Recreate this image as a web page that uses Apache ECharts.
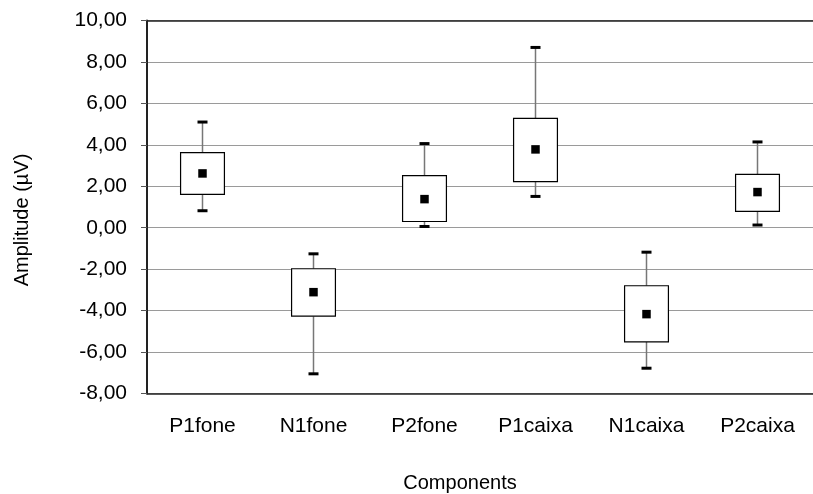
<!DOCTYPE html>
<html>
<head>
<meta charset="utf-8">
<script src="https://cdn.jsdelivr.net/npm/echarts@6/dist/echarts.min.js"></script>
<style>html,body{margin:0;padding:0;background:#fff}#c{width:813px;height:494px}</style>
</head>
<body>
<div id="c"></div>
<script>
var categories = ['P1fone', 'N1fone', 'P2fone', 'P1caixa', 'N1caixa', 'P2caixa'];
var whiskerMax = [5.10, -1.26, 4.06, 8.70, -1.18, 4.14];
var boxTop     = [3.62, -1.98, 2.51, 5.28, -2.80, 2.57];
var meanValues = [2.62, -3.11, 1.38, 3.78, -4.17, 1.72];
var boxBottom  = [1.61, -4.27, 0.30, 2.22, -5.51, 0.79];
var whiskerMin = [0.82, -7.05, 0.06, 1.51, -6.78, 0.13];
var yTicks = [-8, -6, -4, -2, 0, 2, 4, 6, 8, 10];

var boxData = categories.map(function (c, i) {
  return [i, whiskerMin[i], boxBottom[i], boxTop[i], whiskerMax[i]];
});
var meanData = categories.map(function (c, i) { return [i, meanValues[i]]; });

var FONT = 'Liberation Sans, Arial, sans-serif';
var chart = echarts.init(document.getElementById('c'), null, {renderer: 'canvas'});
chart.setOption({
  animation: false,
  backgroundColor: '#fff',
  grid: {left: 147, top: 20.5, width: 678, height: 373},
  xAxis: [{
    type: 'category',
    data: categories,
    position: 'bottom',
    axisLine: {show: true, onZero: false, lineStyle: {color: '#222', width: 1.5}},
    axisTick: {show: false},
    axisLabel: {color: '#000', fontSize: 21, fontFamily: FONT, margin: 22},
    splitLine: {show: false}
  }, {
    type: 'category',
    data: categories,
    position: 'top',
    axisLine: {show: true, onZero: false, lineStyle: {color: '#222', width: 1.5}},
    axisTick: {show: false},
    axisLabel: {show: false}
  }],
  yAxis: {
    type: 'value',
    min: yTicks[0],
    max: yTicks[yTicks.length - 1],
    interval: 2,
    axisLine: {show: true, onZero: false, lineStyle: {color: '#222', width: 2}},
    axisTick: {show: true, inside: false, length: 6, lineStyle: {color: '#555', width: 1}},
    axisLabel: {
      color: '#000', fontSize: 21, fontFamily: FONT, margin: 20,
      formatter: function (v) { return v.toFixed(2).replace('.', ','); }
    },
    splitLine: {show: true, lineStyle: {color: '#9a9a9a', width: 1}}
  },
  graphic: [{
    type: 'text',
    x: 22, y: 220,
    rotation: Math.PI / 2,
    style: {text: 'Amplitude (\u00b5V)', fill: '#000', font: '20px ' + FONT, textAlign: 'center', textVerticalAlign: 'middle'}
  }, {
    type: 'text',
    x: 460, y: 483,
    style: {text: 'Components', fill: '#000', font: '20px ' + FONT, textAlign: 'center', textVerticalAlign: 'middle'}
  }],
  series: [{
    type: 'custom',
    data: boxData,
    z: 3,
    renderItem: function (params, api) {
      var idx = api.value(0);
      var pMin = api.coord([idx, api.value(1)]);
      var pQ1 = api.coord([idx, api.value(2)]);
      var pQ3 = api.coord([idx, api.value(3)]);
      var pMax = api.coord([idx, api.value(4)]);
      var band = api.size([1, 0])[0];
      var bw = band * 0.395;
      var cw = 10;
      var x = pMin[0];
      return {
        type: 'group',
        children: [
          {type: 'line', shape: {x1: x, y1: pMax[1], x2: x, y2: pQ3[1]}, style: {stroke: '#777', lineWidth: 1.5}},
          {type: 'line', shape: {x1: x, y1: pQ1[1], x2: x, y2: pMin[1]}, style: {stroke: '#777', lineWidth: 1.5}},
          {type: 'line', shape: {x1: x - cw / 2, y1: pMax[1], x2: x + cw / 2, y2: pMax[1]}, style: {stroke: '#000', lineWidth: 3}},
          {type: 'line', shape: {x1: x - cw / 2, y1: pMin[1], x2: x + cw / 2, y2: pMin[1]}, style: {stroke: '#000', lineWidth: 3}},
          {type: 'rect', shape: {x: x - bw / 2, y: pQ3[1], width: bw, height: pQ1[1] - pQ3[1]}, style: {fill: '#fff', stroke: '#000', lineWidth: 1.2}}
        ]
      };
    }
  }, {
    type: 'scatter',
    data: meanData,
    symbol: 'rect',
    symbolSize: 8.5,
    z: 5,
    itemStyle: {color: '#000', opacity: 1}
  }]
});
</script>
</body>
</html>
